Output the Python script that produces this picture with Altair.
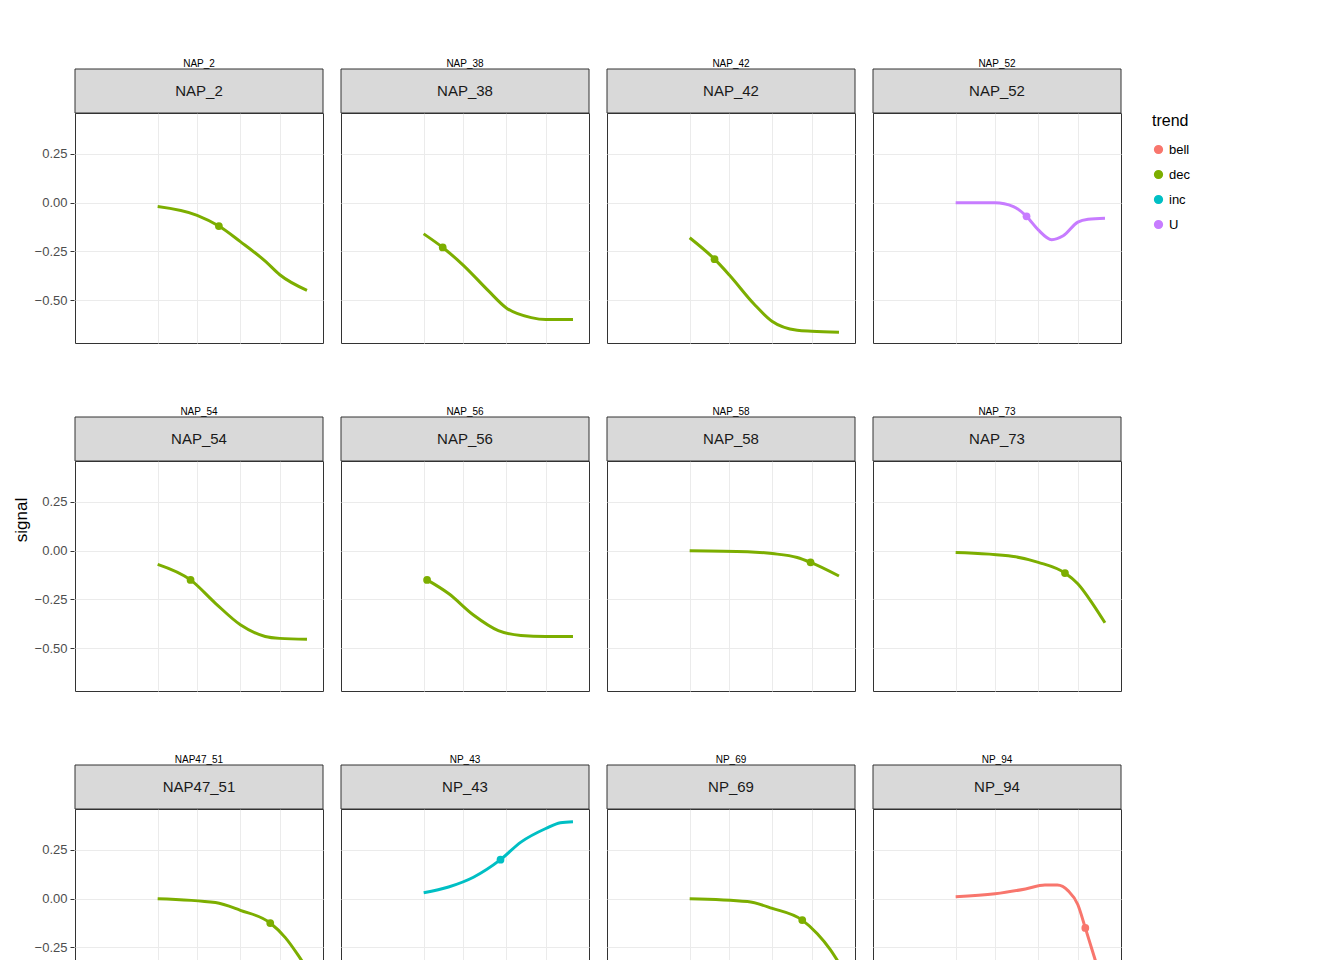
import pandas as pd
import altair as alt

panels = ["NAP_2", "NAP_38", "NAP_42", "NAP_52", "NAP_54", "NAP_56",
          "NAP_58", "NAP_73", "NAP47_51", "NP_43", "NP_69", "NP_94"]
trends = ["dec", "dec", "dec", "U", "dec", "dec", "dec", "dec", "dec", "inc", "dec", "bell"]

# curve samples (dose, signal)
curve_dose = {
    "NAP_2": [0.1, 0.3, 0.55, 1.0, 2.0, 3.0, 6.4],
    "NAP_38": [0.1, 0.17, 0.3, 0.6, 1.0, 2.0, 3.0, 6.4],
    "NAP_42": [0.1, 0.2, 0.3, 0.6, 1.0, 2.0, 3.0, 6.4],
    "NAP_52": [0.1, 0.3, 0.5, 0.72, 1.0, 1.45, 2.0, 3.0, 4.0, 6.4],
    "NAP_54": [0.1, 0.25, 0.5, 1.0, 2.0, 3.0, 6.4],
    "NAP_56": [0.11, 0.2, 0.4, 0.8, 1.5, 3.0, 6.4],
    "NAP_58": [0.1, 0.5, 1.0, 2.0, 2.9, 6.4],
    "NAP_73": [0.1, 0.5, 1.0, 2.1, 3.0, 4.5, 6.4],
    "NAP47_51": [0.1, 0.5, 1.0, 2.3, 3.5, 5.0, 6.4],
    "NP_43": [0.1, 0.2, 0.4, 0.85, 1.5, 3.0, 4.5, 6.4],
    "NP_69": [0.1, 0.5, 1.0, 2.3, 3.5, 5.0, 6.4],
    "NP_94": [0.1, 0.3, 0.7, 1.2, 1.7, 2.3, 3.0, 3.7, 5.0, 6.4],
}
curve_signal = {
    "NAP_2": [-0.02, -0.065, -0.12, -0.2, -0.3, -0.37, -0.45],
    "NAP_38": [-0.16, -0.23, -0.32, -0.45, -0.54, -0.59, -0.6, -0.6],
    "NAP_42": [-0.18, -0.29, -0.37, -0.52, -0.61, -0.655, -0.66, -0.665],
    "NAP_52": [0.0, 0.0, -0.02, -0.07, -0.14, -0.19, -0.17, -0.1, -0.085, -0.08],
    "NAP_54": [-0.07, -0.15, -0.27, -0.38, -0.44, -0.45, -0.455],
    "NAP_56": [-0.15, -0.22, -0.33, -0.41, -0.435, -0.44, -0.44],
    "NAP_58": [0.0, -0.005, -0.015, -0.035, -0.06, -0.13],
    "NAP_73": [-0.01, -0.03, -0.06, -0.115, -0.17, -0.27, -0.37],
    "NAP47_51": [0.0, -0.02, -0.06, -0.125, -0.2, -0.29, -0.36],
    "NP_43": [0.03, 0.06, 0.11, 0.2, 0.29, 0.36, 0.39, 0.395],
    "NP_69": [0.0, -0.015, -0.05, -0.11, -0.18, -0.26, -0.33],
    "NP_94": [0.01, 0.025, 0.05, 0.07, 0.07, 0.04, -0.03, -0.15, -0.33, -0.48],
}
# highlighted point per panel
point_dose = [0.55, 0.17, 0.2, 0.72, 0.25, 0.11, 2.9, 2.1, 2.3, 0.85, 2.3, 3.7]
point_signal = [-0.12, -0.23, -0.29, -0.07, -0.15, -0.15, -0.06, -0.115, -0.125, 0.2, -0.11, -0.15]

rows = []
for p, t in zip(panels, trends):
    for d, s in zip(curve_dose[p], curve_signal[p]):
        rows.append({"panel": p, "trend": t, "dose": d, "signal": s, "kind": "curve"})
for p, t, d, s in zip(panels, trends, point_dose, point_signal):
    rows.append({"panel": p, "trend": t, "dose": d, "signal": s, "kind": "point"})
df = pd.DataFrame(rows)

W, H, STRIP, GAP = 248, 230, 44, 18
color = alt.Color("trend:N", title="trend",
                  scale=alt.Scale(domain=["bell", "dec", "inc", "U"],
                                  range=["#F8766D", "#7CAE00", "#00BFC4", "#C77CFF"]),
                  legend=alt.Legend(symbolType="circle", symbolSize=60, titleFontSize=16,
                                    labelFontSize=13, titleFontWeight="normal",
                                    titlePadding=14, rowPadding=10, offset=30))
x = alt.X("dose:Q", scale=alt.Scale(type="log", domain=[0.078, 8.2]),
          axis=alt.Axis(values=[0.1, 0.3, 1.0, 3.0], format=".1f", title=None,
                        labelFontSize=13, labelColor="#4D4D4D", tickColor="#333333",
                        gridColor="#EBEBEB", domain=False))
y = alt.Y("signal:Q", scale=alt.Scale(domain=[-0.72, 0.46], nice=False),
          axis=alt.Axis(values=[-0.5, -0.25, 0, 0.25], format=".2f", title=None,
                        labelFontSize=13, labelColor="#4D4D4D", tickColor="#333333",
                        gridColor="#EBEBEB", domain=False))

base = alt.Chart()
line = base.mark_line(strokeWidth=3, interpolate="monotone").encode(
    x=x, y=y, color=color).transform_filter(alt.datum.kind == "curve")
pts = base.mark_circle(size=60, opacity=1).encode(
    x="dose:Q", y="signal:Q", color=color).transform_filter(alt.datum.kind == "point")
strip = base.mark_rect(fill="#D9D9D9", stroke="#333333", strokeWidth=1, clip=False).encode(
    x=alt.value(0), x2=alt.value(W), y=alt.value(-STRIP), y2=alt.value(0)
).transform_filter(alt.datum.kind == "point")
label = base.mark_text(fontSize=15, color="#1A1A1A", clip=False).encode(
    x=alt.value(W / 2), y=alt.value(-STRIP / 2), text="panel:N"
).transform_filter(alt.datum.kind == "point")

facet = alt.layer(line, pts, strip, label, data=df).properties(width=W, height=H).facet(
    facet=alt.Facet("panel:N", sort=panels,
                    header=alt.Header(title=None, labels=False, labelPadding=0, titlePadding=0)),
    columns=4, spacing={"row": GAP + STRIP, "column": 16}
)

ylab = alt.Chart(pd.DataFrame({"t": ["signal"]})).mark_text(
    angle=270, fontSize=17, color="#000000").encode(text="t:N").properties(
    width=14, height=3 * H + 2 * (GAP + STRIP))

chart = alt.hconcat(ylab, facet, spacing=4).properties(
    title=alt.TitleParams("dose (in log scale)", orient="bottom", anchor="middle",
                          fontSize=17, fontWeight="normal", offset=6, dx=-40),
    padding={"left": 5, "top": STRIP + 6, "right": 5, "bottom": 5},
).configure_view(stroke="#333333", strokeWidth=1).configure_axis(tickSize=4, labelPadding=3)

chart.save("out.html", embed_options={"renderer": "svg", "actions": False})
